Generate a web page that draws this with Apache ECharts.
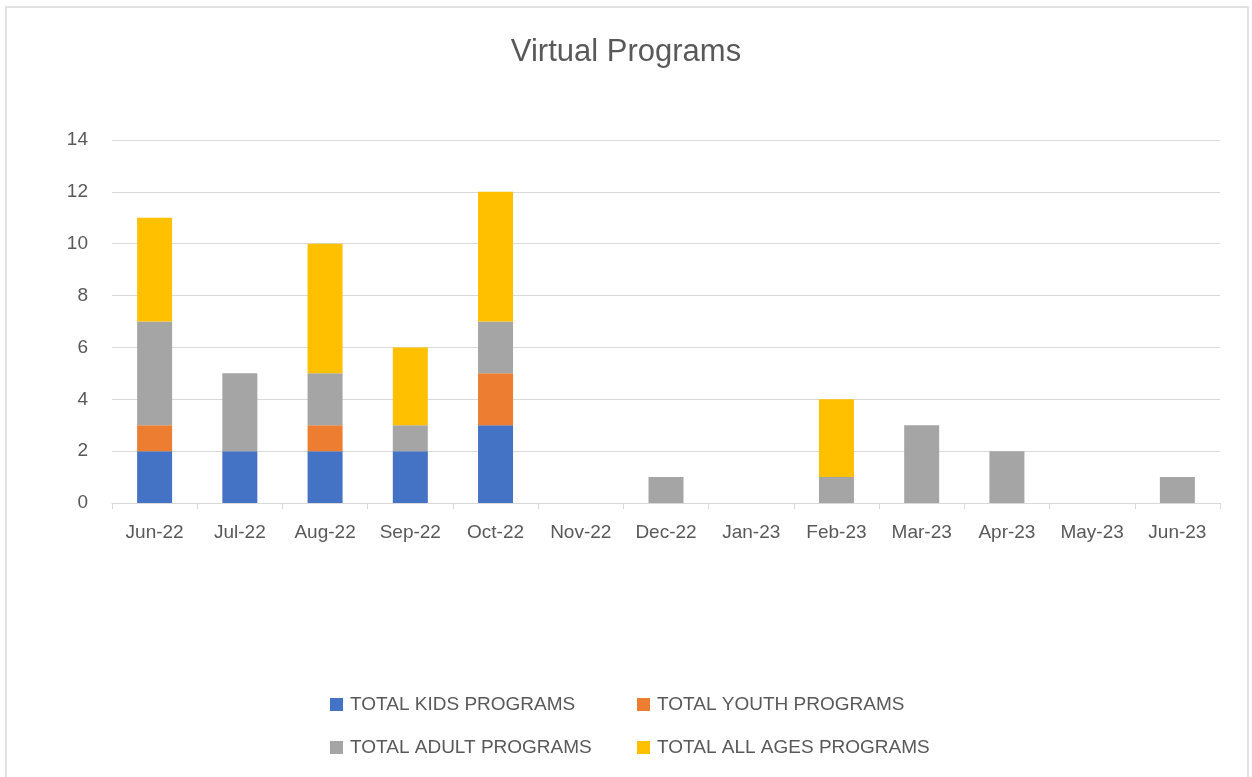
<!DOCTYPE html>
<html>
<head>
<meta charset="utf-8">
<script src="https://cdn.jsdelivr.net/npm/echarts@6/dist/echarts.min.js"></script>
<style>
  html, body { margin: 0; padding: 0; background: #fff; }
  #chart { width: 1252px; height: 777px; }
</style>
</head>
<body>
<div id="chart"></div>
<script>
var months = ['Jun-22', 'Jul-22', 'Aug-22', 'Sep-22', 'Oct-22', 'Nov-22', 'Dec-22',
              'Jan-23', 'Feb-23', 'Mar-23', 'Apr-23', 'May-23', 'Jun-23'];
var kids    = [2, 2, 2, 2, 3, 0, 0, 0, 0, 0, 0, 0, 0];
var youth   = [1, 0, 1, 0, 2, 0, 0, 0, 0, 0, 0, 0, 0];
var adult   = [4, 3, 2, 1, 2, 0, 1, 0, 1, 3, 2, 0, 1];
var allAges = [4, 0, 5, 3, 5, 0, 0, 0, 3, 0, 0, 0, 0];
var yTicks = [0, 14, 2];  // min, max, step

var font = 'Liberation Sans, Arial, sans-serif';
var textColor = '#595959';

function bar(name, data, color) {
    return {
        name: name,
        type: 'bar',
        stack: 'total',
        barWidth: 35,
        itemStyle: { color: color },
        data: data
    };
}

function legendCol(left, names) {
    return {
        orient: 'vertical',
        left: left,
        top: 695,
        padding: 0,
        itemWidth: 13,
        itemHeight: 13,
        itemGap: 24,
        icon: 'rect',
        textStyle: { fontFamily: font, fontSize: 19, color: textColor, padding: [0, 0, 0, 2] },
        data: names
    };
}

var chart = echarts.init(document.getElementById('chart'));
chart.setOption({
    backgroundColor: '#ffffff',
    animation: false,
    textStyle: { fontFamily: font },
    title: {
        text: 'Virtual Programs',
        left: 'center',
        top: 32,
        textStyle: { fontFamily: font, fontSize: 31, fontWeight: 'normal', color: textColor }
    },
    grid: { left: 112, right: 32, top: 140, bottom: 274 },
    legend: [
        legendCol(330, ['TOTAL KIDS PROGRAMS', 'TOTAL ADULT PROGRAMS']),
        legendCol(637, ['TOTAL YOUTH PROGRAMS', 'TOTAL ALL AGES PROGRAMS'])
    ],
    xAxis: {
        type: 'category',
        data: months,
        axisLine: { lineStyle: { color: '#d9d9d9', width: 1 } },
        axisTick: { show: true, length: 6, lineStyle: { color: '#d9d9d9' } },
        axisLabel: { fontFamily: font, fontSize: 19, color: textColor, margin: 20 }
    },
    yAxis: {
        type: 'value',
        min: yTicks[0],
        max: yTicks[1],
        interval: yTicks[2],
        axisLine: { show: false },
        axisTick: { show: false },
        splitLine: { lineStyle: { color: '#d9d9d9', width: 1 } },
        axisLabel: { fontFamily: font, fontSize: 19, color: textColor, margin: 24 }
    },
    graphic: [{
        type: 'rect',
        shape: { x: 6, y: 7, width: 1242, height: 780 },
        style: { fill: null, stroke: '#d9d9d9', lineWidth: 1.5 },
        silent: true
    }],
    series: [
        bar('TOTAL KIDS PROGRAMS', kids, '#4472c4'),
        bar('TOTAL YOUTH PROGRAMS', youth, '#ed7d31'),
        bar('TOTAL ADULT PROGRAMS', adult, '#a5a5a5'),
        bar('TOTAL ALL AGES PROGRAMS', allAges, '#ffc000')
    ]
});
</script>
</body>
</html>
